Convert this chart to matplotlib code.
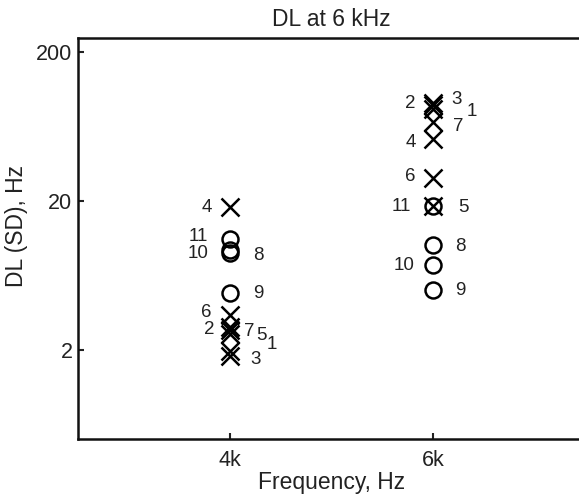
import matplotlib
matplotlib.use("Agg")
import matplotlib.pyplot as plt

plt.rcParams['font.family'] = ['Liberation Sans', 'DejaVu Sans']

# Difference limens (SD) at 4 kHz and 6 kHz, one value per listener
freq_4k = 4000
freq_6k = 6000

# listeners 1-7: crosses, listeners 8-11: circles
ids_4k = [4, 11, 10, 8, 9, 6, 2, 7, 5, 1, 3]
dl_4k = [18.2, 11.1, 9.3, 8.9, 4.8, 3.4, 2.85, 2.7, 2.55, 1.97, 1.82]

ids_6k = [2, 3, 1, 7, 4, 6, 11, 5, 8, 10, 9]
dl_6k = [88, 92, 83, 68, 52, 28.5, 18.5, 18.5, 10.1, 7.4, 5.0]

xticks = [4000, 6000]
xtick_labels = ['4k', '6k']
yticks = [2, 20, 200]
ytick_labels = ['2', '20', '200']

# label placement (offset in points from each marker)
offsets_4k = {4: (-17, 0), 11: (-23, 2), 10: (-23, -2), 8: (20, -2), 9: (20, 0),
              6: (-17, 2), 2: (-15, -2), 7: (14, -1), 5: (22.5, -1), 1: (30, 4),
              3: (18, -3)}
offsets_6k = {2: (-16, 1), 3: (17, 2), 1: (28, -2), 7: (18, -3), 4: (-16, -2),
              6: (-16, 1), 11: (-23, 0), 5: (22, -1), 8: (20, -1), 10: (-21, 0),
              9: (20, 0)}

fig = plt.figure(figsize=(5.79, 4.98), dpi=100)
ax = fig.add_axes([78 / 579, 59 / 498, 507 / 579, 401 / 498])
ax.set_yscale('log')
ax.set_xlim(2500, 7500)
ax.set_ylim(0.5, 250)


def draw_group(x, ids, vals, offsets):
    for i, v in zip(ids, vals):
        if i <= 7:
            ax.plot([x], [v], marker='x', markersize=13.5, markeredgewidth=1.8,
                    color='black', linestyle='none')
        else:
            ax.plot([x], [v], marker='o', markersize=11.5, markeredgewidth=1.8,
                    markerfacecolor='none', markeredgecolor='black', linestyle='none')
        dx, dy = offsets[i]
        ax.annotate(str(i), (x, v), xytext=(dx, dy), textcoords='offset points',
                    ha='center', va='center', fontsize=13.5, color='#222222')


draw_group(freq_4k, ids_4k, dl_4k, offsets_4k)
draw_group(freq_6k, ids_6k, dl_6k, offsets_6k)

ax.set_xticks(xticks)
ax.set_xticklabels(xtick_labels)
ax.set_yticks(yticks)
ax.set_yticklabels(ytick_labels)
ax.yaxis.set_minor_locator(matplotlib.ticker.NullLocator())
ax.tick_params(direction='in', length=4, width=1.5, labelsize=15.5, colors='#222222')
ax.tick_params(axis='x', pad=8)
ax.tick_params(axis='y', pad=4)
for s in ax.spines.values():
    s.set_linewidth(1.8)
    s.set_color('#111111')

ax.set_xlabel('Frequency, Hz', fontsize=16.5, color='#222222', labelpad=0)
ax.set_ylabel('DL (SD), Hz', fontsize=16.5, color='#222222')
ax.yaxis.set_label_coords(-0.098, 0.53)
ax.set_title('DL at 6 kHz', fontsize=16.5, color='#222222', pad=9)

fig.savefig('out.png', dpi=100, facecolor='white')
